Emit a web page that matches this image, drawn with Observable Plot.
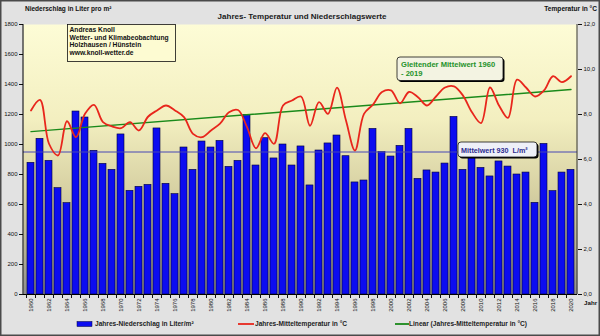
<!DOCTYPE html>
<html><head><meta charset="utf-8">
<script src="https://cdn.jsdelivr.net/npm/d3@7"></script>
<script src="https://cdn.jsdelivr.net/npm/@observablehq/plot@0.6"></script>
<style>
html,body{margin:0;padding:0;background:#e2e2e2;}
#chart{position:relative;width:600px;height:336px;overflow:hidden;}
#chart svg{display:block;}
</style></head><body><div id="chart"></div>
<script>
const years = [1960,1961,1962,1963,1964,1965,1966,1967,1968,1969,
  1970,1971,1972,1973,1974,1975,1976,1977,1978,1979,
  1980,1981,1982,1983,1984,1985,1986,1987,1988,1989,
  1990,1991,1992,1993,1994,1995,1996,1997,1998,1999,
  2000,2001,2002,2003,2004,2005,2006,2007,2008,2009,
  2010,2011,2012,2013,2014,2015,2016,2017,2018,2019,2020];
const precipitation = [878,1038,891,709,609,1220,1180,958,871,831,
  1067,691,718,731,1107,738,669,980,831,1020,
  980,1024,851,891,1198,860,1042,907,1000,860,
  987,727,960,1007,1060,922,747,760,1104,949,
  920,991,1104,771,827,813,873,1184,831,940,
  844,787,887,853,800,813,611,1004,689,813,831];
const temperature = [8.18,8.65,6.7,6.18,7.7,6.99,8.03,8.43,7.66,7.47,
  7.39,7.66,7.29,7.9,8.18,8.4,8.18,7.88,7.14,6.99,
  7.29,7.59,8.1,8.2,7.44,6.5,7.17,6.7,8.4,8.62,
  8.8,7.5,8.55,8.03,9.19,7.73,6.4,8.03,8.44,9.0,
  9.07,8.5,9.0,8.77,8.4,8.8,9.2,9.25,8.84,8.1,
  7.62,9.2,8.4,7.85,9.55,9.2,8.8,9.07,9.7,9.44,9.7];
const trendYears = [1960, 2020];
const trendTemps = [7.24, 9.11];
const precipMean = 950;
const meanLabel = "Mittelwert 930  L/m²";
const precipTicks = [0,200,400,600,800,1000,1200,1400,1600,1800];
const tempTicks = [0,2,4,6,8,10,12];
const yearLabels = [1960,1962,1964,1966,1968,1970,1972,1974,1976,1978,1980,1982,1984,1986,1988,1990,1992,1994,1996,1998,2000,2002,2004,2006,2008,2010,2012,2014,2016,2018,2020];
const titleText = "Jahres- Temperatur und Niederschlagswerte";
const leftTitle = "Niederschlag in Liter pro m²";
const rightTitle = "Temperatur in °C";
const xTitle = "Jahr";
const infoLines = ["Andreas Knoll","Wetter- und Klimabeobachtung","Holzhausen / Hünstein","www.knoll-wetter.de"];
const trendLabelLines = ["Gleitender Mittelwert 1960","- 2019"];
const legendLabels = ["Jahres-Niederschlag in Liter/m²","Jahres-Mitteltemperatur in °C","Linear (Jahres-Mitteltemperatur in °C)"];

const precipMax = 1800, tempMax = 12, k = precipMax / tempMax;
const data = years.map((year, i) => ({year, precip: precipitation[i], temp: temperature[i]}));
const trend = trendYears.map((year, i) => ({year, temp: trendTemps[i]}));

const defs = () => {
  const d = d3.create("svg:defs");
  const g = d.append("linearGradient").attr("id", "plotBg").attr("x1", 0).attr("y1", 0).attr("x2", 0).attr("y2", 1);
  [[0, "#fdfcd6"], [0.35, "#f3efc0"], [0.62, "#d6d0a2"], [0.85, "#b2ae92"], [1, "#8e8e8e"]]
    .forEach(([o, c]) => g.append("stop").attr("offset", o).attr("stop-color", c));
  return d.node();
};

const chart = Plot.plot({
  width: 600, height: 336,
  marginLeft: 23, marginRight: 23, marginTop: 24, marginBottom: 42,
  style: {fontFamily: "'Liberation Sans', Arial, sans-serif", fontSize: "6px", background: "transparent", color: "#111", overflow: "visible"},
  x: {type: "band", domain: years, paddingInner: 0.27, paddingOuter: 0.12, axis: null},
  y: {domain: [0, precipMax], axis: null},
  marks: [
    defs,
    Plot.frame({fill: "url(#plotBg)"}),
    Plot.barY(data, {x: "year", y: "precip", fill: "#0c0cf0", stroke: "#00003a", strokeWidth: 0.6}),
    Plot.ruleY([precipMean], {stroke: "#4646b4", strokeWidth: 1}),
    Plot.line(trend, {x: "year", y: d => d.temp * k, stroke: "#1a8a1a", strokeWidth: 1.4}),
    Plot.line(data, {x: "year", y: d => d.temp * k, stroke: "#e8261c", strokeWidth: 1.8, curve: "catmull-rom"}),
    Plot.ruleY([0], {stroke: "#000", strokeWidth: 1}),
    Plot.axisY({anchor: "left", label: null, ticks: precipTicks, tickFormat: d => String(d), tickSize: 4, tickPadding: 2, fontSize: 6}),
    Plot.axisY({anchor: "right", label: null, ticks: tempTicks.map(t => t * k), tickFormat: d => (d / k).toFixed(1).replace(".", ","), tickSize: 4, tickPadding: 2, fontSize: 6}),
    Plot.axisX({label: null, ticks: yearLabels, tickFormat: d => String(d), tickRotate: -90, tickSize: 0, tickPadding: 4, fontSize: 6}),
    Plot.axisX({label: null, ticks: years, tickFormat: () => "", tickSize: 4, dx: -4.5})
  ]
});

const svg = d3.select(chart);
const xr = chart.scale("x").range, yr = chart.scale("y").range;
const yS = v => chart.scale("y").apply(v);
const FONT = "'Liberation Sans', Arial, sans-serif";

svg.insert("rect", ":first-child").attr("x", 0.75).attr("y", 0.75).attr("width", 598.5).attr("height", 334.5)
  .attr("fill", "#e2e2e2").attr("stroke", "#4a4a4a").attr("stroke-width", 1.5);

svg.append("line").attr("x1", xr[0]).attr("x2", xr[0]).attr("y1", yr[1]).attr("y2", yr[0]).attr("stroke", "#000");
svg.append("line").attr("x1", xr[1]).attr("x2", xr[1]).attr("y1", yr[1]).attr("y2", yr[0]).attr("stroke", "#333");

const txt = (x, y, s, opts = {}) => svg.append("text").attr("x", x).attr("y", y).text(s)
  .attr("font-family", FONT).attr("font-size", opts.size || 6.5).attr("font-weight", opts.weight || "bold")
  .attr("fill", opts.fill || "#111").attr("text-anchor", opts.anchor || "start");
txt(302, 18.5, titleText, {size: 8, anchor: "middle", fill: "#1a1a1a"});
txt(25, 11, leftTitle, {size: 6.5});
txt(597, 11, rightTitle, {size: 6.6, anchor: "end"});
txt(584, 305, xTitle, {size: 6.2});

const box = (x, y, w, h, fill, rx, shadow) => {
  if (shadow) svg.append("rect").attr("x", x + 1.5).attr("y", y + 1.5).attr("width", w).attr("height", h).attr("rx", rx).attr("fill", "#000");
  svg.append("rect").attr("x", x).attr("y", y).attr("width", w).attr("height", h).attr("rx", rx)
    .attr("fill", fill).attr("stroke", "#111").attr("stroke-width", 0.8);
};
box(67.5, 24.5, 108, 37, "#fdfbd2", 0, false);
infoLines.forEach((s, i) => txt(69.5, 32 + i * 7.6, s, {size: 6.7}));

box(397, 57, 106, 23.5, "#f3f3e2", 3, true);
trendLabelLines.forEach((s, i) => txt(401, 66.5 + i * 9, s, {size: 7.6, fill: "#24922a"}));

const ym = yS(precipMean);
box(458, ym - 9.5, 79, 15, "#eef0f8", 3, true);
txt(461, ym + 1.3, meanLabel, {size: 7.2, fill: "#2c2c8e", weight: "600"});

const ly = 324;
svg.append("rect").attr("x", 77).attr("y", ly - 2.5).attr("width", 15).attr("height", 5).attr("fill", "#0c0cf0").attr("stroke", "#00003a").attr("stroke-width", 0.5);
txt(95, ly + 2.2, legendLabels[0], {size: 6.6, fill: "#222"});
svg.append("line").attr("x1", 238).attr("x2", 254).attr("y1", ly).attr("y2", ly).attr("stroke", "#e8261c").attr("stroke-width", 1.8);
txt(255, ly + 2.2, legendLabels[1], {size: 6.6, fill: "#222"});
svg.append("line").attr("x1", 395).attr("x2", 409).attr("y1", ly).attr("y2", ly).attr("stroke", "#1a8a1a").attr("stroke-width", 1.8);
txt(409, ly + 2.2, legendLabels[2], {size: 6.6, fill: "#222"});

document.getElementById("chart").appendChild(chart);
</script></body></html>
